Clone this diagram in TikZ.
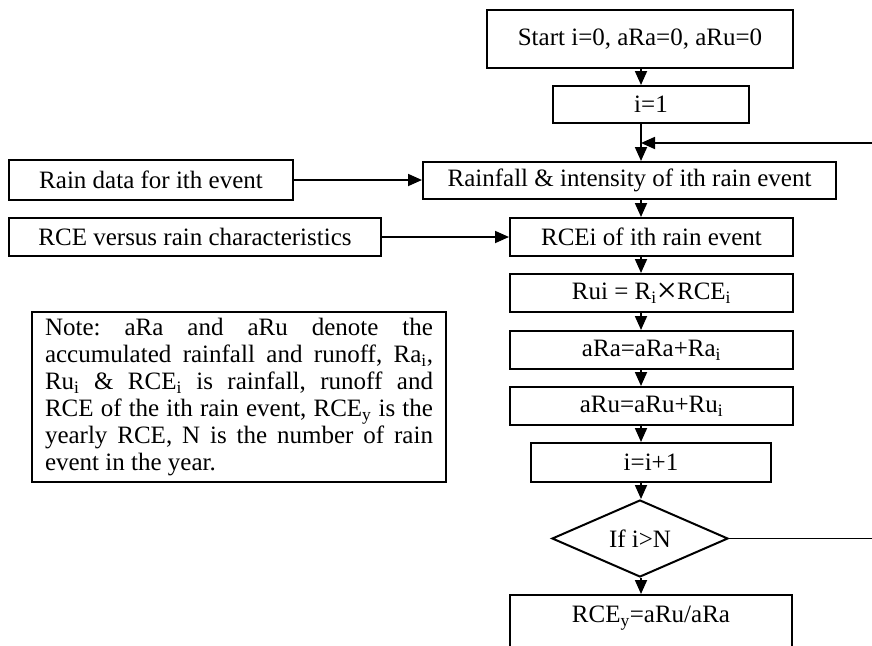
\documentclass[tikz,border=0pt]{standalone}
\usepackage{fontspec}
\usepackage{graphicx}
\setmainfont{Liberation Serif}
\usetikzlibrary{arrows.meta,shapes.geometric}
\tikzset{
  box/.style={draw=black, line width=2pt, rectangle, inner sep=0pt},
  arr/.style={line width=1.8pt, -{Triangle[length=14pt,width=12pt]}},
  conn/.style={line width=1.8pt},
  every node/.style={font=\fontsize{25}{27}\selectfont}
}
\newcommand{\sbi}[1]{\textsubscript{#1}}
\frenchspacing
\begin{document}
\begin{tikzpicture}[x=1pt,y=-1pt]
\useasboundingbox (0,0) rectangle (872,645);
\clip (0,0) rectangle (872,645);
\fill[white] (0,0) rectangle (872,645);
\coordinate (ax) at (641,0);
% main column
\node[box, minimum width=306pt, minimum height=58pt] (start) at (640,39) {Start i=0, aRa=0, aRu=0};
\node[box, minimum width=196pt, minimum height=37pt] (i1) at (651,104.5) {i=1};
\node[box, minimum width=413pt, minimum height=37pt] (rain) at (629.5,180.5) {Rainfall \& intensity of ith rain event};
\node[box, minimum width=283pt, minimum height=38pt] (rcei) at (651.5,237) {RCEi of ith rain event};
\node[box, minimum width=283pt, minimum height=38pt] (rui) at (651.5,293) {Rui = R\sbi{i}\raisebox{-3pt}{\scalebox{1.45}{×}}RCE\sbi{i}};
\node[box, minimum width=283pt, minimum height=38pt] (ara) at (651.5,350) {aRa=aRa+Ra\sbi{i}};
\node[box, minimum width=283pt, minimum height=38pt] (aru) at (651.5,406) {aRu=aRu+Ru\sbi{i}};
\node[box, minimum width=240pt, minimum height=39pt] (inc) at (651,462.5) {i=i+1};
\node[draw=black, line width=2pt, diamond, inner sep=0pt, aspect=2.3, minimum width=176pt, minimum height=77pt] (dia) at (640,538.5) {If i>N};
\node[box, minimum width=282pt, minimum height=80pt, anchor=north] (rcey) at (651,594) {};
\node (rceyt) at (651,618) {RCE\sbi{y}=aRu/aRa};
% left column
\node[box, minimum width=284pt, minimum height=40pt] (raindata) at (151,180) {Rain data for ith event};
\node[box, minimum width=372pt, minimum height=38pt] (rcevs) at (195,237) {RCE versus rain characteristics};
\node[box, minimum width=414pt, minimum height=170pt, inner sep=0pt, align=left] (note) at (239,397) {%
\makebox[388pt][s]{Note: aRa and aRu denote the}\\
\makebox[388pt][s]{accumulated rainfall and runoff, Ra\sbi{i},}\\
\makebox[388pt][s]{Ru\sbi{i} \& RCE\sbi{i} is rainfall, runoff and}\\
\makebox[388pt][s]{RCE of the ith rain event, RCE\sbi{y} is the}\\
\makebox[388pt][s]{yearly RCE, N is the number of rain}\\
\makebox[388pt][l]{event in the year.}};
% connectors
\draw[arr] (start.south -| ax) -- (i1.north -| ax);
\draw[arr] (i1.south -| ax) -- (rain.north -| ax);
\coordinate (fb) at (880,143);
\draw[arr] (fb) -- (fb -| ax);
\draw[arr] (rain.south -| ax) -- (rcei.north -| ax);
\draw[arr] (rcei.south -| ax) -- (rui.north -| ax);
\draw[arr] (rui.south -| ax) -- (ara.north -| ax);
\draw[arr] (ara.south -| ax) -- (aru.north -| ax);
\draw[arr] (aru.south -| ax) -- (inc.north -| ax);
\draw[arr] (inc.south -| ax) -- (dia.north -| ax);
\draw[arr] (dia.south -| ax) -- (rcey.north -| ax);
\coordinate (dr) at (880,538.5);
\draw[conn] (dia.east) -- (dr);
\draw[arr] (raindata.east) -- (raindata.east -| rain.west);
\draw[arr] (rcevs.east) -- (rcevs.east -| rcei.west);
\end{tikzpicture}
\end{document}
